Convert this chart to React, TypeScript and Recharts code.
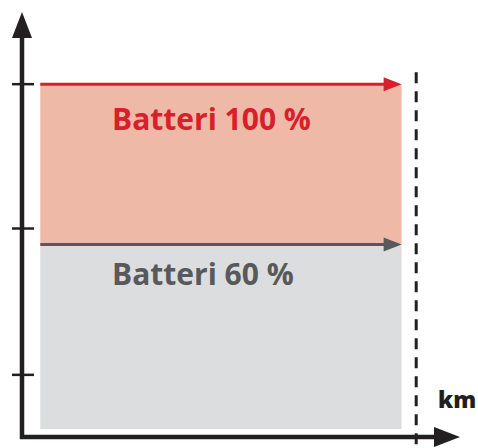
import React from 'react';
import { ComposedChart, Area, XAxis, YAxis, ReferenceLine, Label } from 'recharts';

// battery levels (%) and their labels
const levels = [100, 60];
const levelLabels = ['Batteri 100 %', 'Batteri 60 %'];
const baseLevel = 14;
const yTicks = [27.5, 64, 100];

// range along the km axis
const rangeKm = [5, 104];
const maxRangeKm = 108;
const xDomain = [0, 120];
const yDomain = [12, 118];

const rangeData = rangeKm.map((km) => ({
    km,
    full: [levels[1], levels[0]],
    partial: [baseLevel, levels[1]],
}));

const AREA_FILLS = ['#EFB9A7', '#DCDDDE'];
const LINE_COLORS = ['#D7202B', '#58595B'];
const LABEL_DY = [46, 40];
const INK = '#231F20';
const FONT = "'Open Sans', 'DejaVu Sans', sans-serif";

const makeArrow = (headLen: number, halfW: number) => (props: any) => {
    const { x1, y1, x2, y2, stroke, strokeWidth } = props;
    const dx = x2 - x1;
    const dy = y2 - y1;
    const len = Math.sqrt(dx * dx + dy * dy) || 1;
    const ux = dx / len;
    const uy = dy / len;
    const bx = x2 - ux * headLen;
    const by = y2 - uy * headLen;
    const px = -uy * halfW;
    const py = ux * halfW;
    return (
        <g>
            <line x1={x1} y1={y1} x2={bx + ux} y2={by + uy} stroke={stroke} strokeWidth={strokeWidth} />
            <polygon points={`${x2},${y2} ${bx + px},${by + py} ${bx - px},${by - py}`} fill={stroke} />
        </g>
    );
};

const axisArrow = makeArrow(26, 10);
const levelArrow = makeArrow(18, 7);

// tick marks cross the y axis
const TickMark = (props: any) => {
    const { x1, y1 } = props;
    return <line x1={x1 - 10} y1={y1} x2={x1 + 12} y2={y1} stroke={INK} strokeWidth={2.5} />;
};

const levelLabel = (i: number) => (props: any) => {
    const vb = props.viewBox || {};
    return (
        <text x={112} y={vb.y + LABEL_DY[i]} fill={LINE_COLORS[i]} fontFamily={FONT} fontWeight={700} fontSize={30}>
            {levelLabels[i]}
        </text>
    );
};

export default function App() {
    return (
        <div style={{ position: 'absolute', left: 0, top: 0, width: 478, height: 448, background: '#fff' }}>
            <ComposedChart width={478} height={448} data={rangeData} margin={{ top: 12, right: 18, bottom: 11, left: 22 }}>
                <XAxis type="number" dataKey="km" domain={xDomain} hide />
                <YAxis type="number" domain={yDomain} width={0} hide allowDataOverflow />
                <Area
                    type="linear"
                    dataKey="full"
                    fill={AREA_FILLS[0]}
                    fillOpacity={1}
                    stroke="none"
                    isAnimationActive={false}
                />
                <Area
                    type="linear"
                    dataKey="partial"
                    fill={AREA_FILLS[1]}
                    fillOpacity={1}
                    stroke="none"
                    isAnimationActive={false}
                />
                {levels.map((lv, i) => (
                    <ReferenceLine
                        key={`line-${lv}`}
                        segment={[{ x: rangeKm[0], y: lv }, { x: rangeKm[1], y: lv }]}
                        stroke={LINE_COLORS[i]}
                        strokeWidth={3}
                        shape={levelArrow}
                        ifOverflow="visible"
                    >
                        <Label content={levelLabel(i)} />
                    </ReferenceLine>
                ))}
                <ReferenceLine
                    segment={[{ x: maxRangeKm, y: 103 }, { x: maxRangeKm, y: 9.2 }]}
                    stroke={INK}
                    strokeWidth={3}
                    strokeDasharray="11 8"
                    ifOverflow="visible"
                />
                <ReferenceLine
                    segment={[{ x: xDomain[0], y: yDomain[0] - 0.5 }, { x: xDomain[0], y: yDomain[1] }]}
                    stroke={INK}
                    strokeWidth={4.5}
                    shape={axisArrow}
                    ifOverflow="visible"
                />
                <ReferenceLine
                    segment={[{ x: xDomain[0] - 0.5, y: yDomain[0] }, { x: xDomain[1], y: yDomain[0] }]}
                    stroke={INK}
                    strokeWidth={4.5}
                    shape={axisArrow}
                    ifOverflow="visible"
                />
                {yTicks.map((t) => (
                    <ReferenceLine
                        key={`tick-${t}`}
                        segment={[{ x: xDomain[0], y: t }, { x: xDomain[0] + 1, y: t }]}
                        shape={TickMark}
                        ifOverflow="visible"
                    />
                ))}
                <text x={438} y={408} fill={INK} fontFamily={FONT} fontWeight={800} fontSize={23}>
                    km
                </text>
            </ComposedChart>
        </div>
    );
}
